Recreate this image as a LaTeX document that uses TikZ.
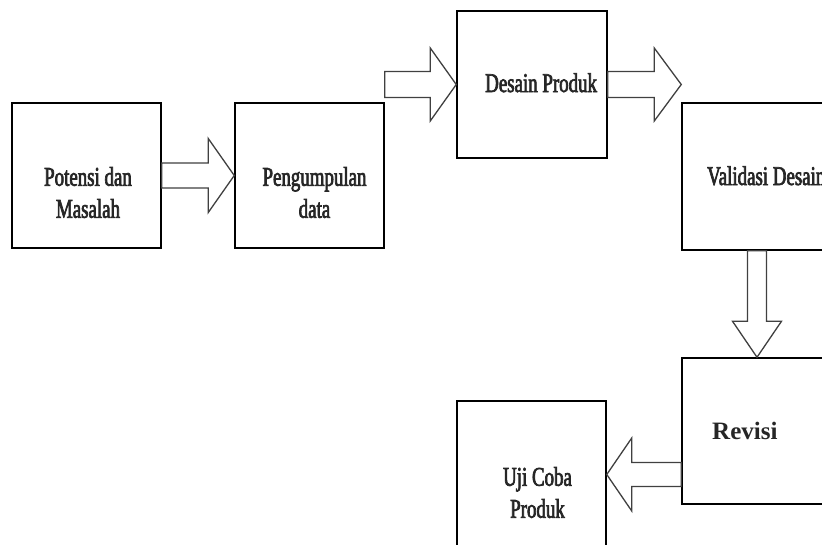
\documentclass[tikz,border=0pt]{standalone}
\usepackage{fontspec}
\setmainfont{Liberation Serif}
\newfontfamily\condfont[FakeStretch=0.7,FakeBold=2.5]{Liberation Serif}
\usetikzlibrary{calc}
\tikzset{
  box/.style={draw=black,line width=1.5pt,minimum width=149pt,minimum height=146pt,inner sep=0pt},
  lbl/.style={font=\condfont\fontsize{27}{32}\selectfont,align=center,inner sep=0pt,text=black!85},
  blk/.style={draw=black!75,line width=1.3pt,fill=white,line join=miter},
}
\newcommand{\hblock}[5]{% start, tip, halfshaft, halfhead, signed head length
  \draw[blk] ($(#1)+(0,-#3)$) -- ($(#2)+(-#5,-#3)$) -- ($(#2)+(-#5,-#4)$) -- (#2)
    -- ($(#2)+(-#5,#4)$) -- ($(#2)+(-#5,#3)$) -- ($(#1)+(0,#3)$) -- cycle;}
\newcommand{\vblock}[5]{% start, tip, halfshaft, halfhead, signed head length
  \draw[blk] ($(#1)+(-#3,0)$) -- ($(#2)+(-#3,-#5)$) -- ($(#2)+(-#4,-#5)$) -- (#2)
    -- ($(#2)+(#4,-#5)$) -- ($(#2)+(#3,-#5)$) -- ($(#1)+(#3,0)$) -- cycle;}
\begin{document}
\begin{tikzpicture}[x=1pt,y=-1pt]
\useasboundingbox (0,0) rectangle (822,544);
\clip (0,0) rectangle (822,544);
\fill[white] (0,0) rectangle (822,544);
\node[box,minimum height=145pt] (b1) at (86.5,175.5) {};
\node[box,minimum height=145pt] (b2) at (309.5,175.5) {};
\node[box,minimum width=150pt,minimum height=147pt] (b3) at (532,84.5) {};
\node[box,minimum width=150pt,minimum height=147pt] (b4) at (757,176.5) {};
\node[box,minimum width=150pt] (b5) at (757,431) {};
\node[box,minimum height=147pt] (b6) at (531.5,474.5) {};
% block arrows
\hblock{b1.east}{b2.west}{12.5}{37}{26}
\hblock{b2.east |- b3.west}{b3.west}{13}{36.5}{26}
\hblock{b3.east}{b4.west |- b3.east}{13}{36.5}{27}
\vblock{b4.south}{b5.north}{9.5}{24.5}{36}
\hblock{b5.west |- b6.east}{b6.east}{12}{36.5}{-25}
% labels
\node[lbl] (t1) at ($(b1.center)+(1.5,17)$) {Potensi dan\\Masalah};
\node[lbl] (t2) at ($(b2.center)+(5,17)$) {Pengumpulan\\data};
\node[lbl,anchor=base west] (t3) at (485,92) {Desain Produk};
\node[lbl,anchor=base west] (t4) at (707,185) {Validasi Desain};
\node[font=\bfseries\fontsize{25}{30}\selectfont,anchor=base west,inner sep=0pt,text=black!85] (t5) at (712,439) {Revisi};
\node[lbl] (t6) at ($(b6.center)+(6,18)$) {Uji Coba\\Produk};
\end{tikzpicture}
\end{document}
